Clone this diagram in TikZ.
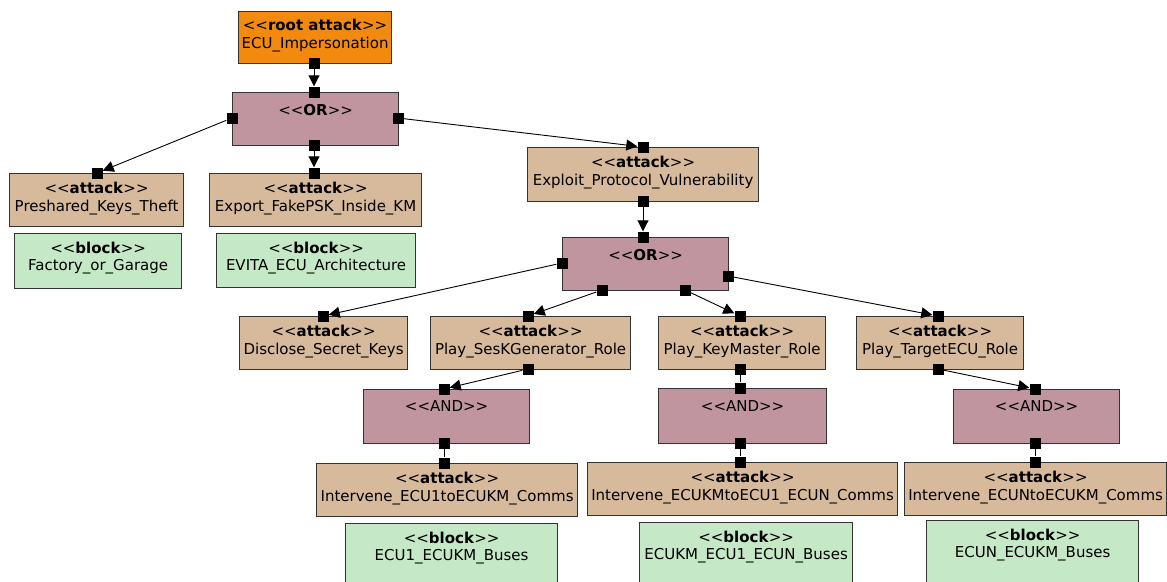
\documentclass[tikz,border=0pt]{standalone}
\usepackage{fontspec}
\newfontfamily\dv{DejaVu Sans}
\usetikzlibrary{arrows.meta}
\definecolor{rootc}{HTML}{F38A10}
\definecolor{attc}{HTML}{D7B99B}
\definecolor{gatec}{HTML}{C0959F}
\definecolor{blkc}{HTML}{C5E8C6}
\newcommand\stereo[1]{<<\textbf{#1}>>}
\begin{document}
\begin{tikzpicture}[x=1pt,y=-1pt,
  bx/.style={draw=black!80, line width=1.2pt, inner sep=0pt, anchor=north west},
  rootbox/.style={bx, fill=rootc},
  attbox/.style={bx, fill=attc},
  gatebox/.style={bx, fill=gatec},
  blkbox/.style={bx, fill=blkc},
  txt/.style={font=\dv\fontsize{15pt}{18pt}\selectfont, inner sep=0pt, anchor=center},
  port/.style={fill=black, draw=none, minimum size=11pt, inner sep=0pt},
  arr/.style={line width=0.9pt, -{Triangle[length=11pt,width=11pt]}},
  lnk/.style={line width=0.9pt}
]
\useasboundingbox (0,0) rectangle (1167,581);
\clip (0,0) rectangle (1167,581);

% boxes
\node[rootbox, minimum width=153pt, minimum height=52pt] (root) at (238,11) {};
\node[gatebox, minimum width=166pt, minimum height=53pt] (or1) at (232,92) {};
\node[attbox, minimum width=174pt, minimum height=53pt] (pkt) at (9,173) {};
\node[blkbox, minimum width=167pt, minimum height=55pt] (fog) at (14,233) {};
\node[attbox, minimum width=212pt, minimum height=53pt] (efp) at (209,173) {};
\node[blkbox, minimum width=199pt, minimum height=54pt] (eva) at (216,233) {};
\node[attbox, minimum width=231pt, minimum height=54pt] (epv) at (527,147) {};
\node[gatebox, minimum width=166pt, minimum height=53pt] (or2) at (562,237) {};
\node[attbox, minimum width=168pt, minimum height=53pt] (dsk) at (239,316) {};
\node[attbox, minimum width=200pt, minimum height=53pt] (psg) at (430,316) {};
\node[attbox, minimum width=167pt, minimum height=53pt] (pkm) at (658,316) {};
\node[attbox, minimum width=167pt, minimum height=53pt] (pte) at (856,316) {};
\node[gatebox, minimum width=166pt, minimum height=54pt] (and1) at (363,389) {};
\node[gatebox, minimum width=168pt, minimum height=55pt] (and2) at (658,388) {};
\node[gatebox, minimum width=166pt, minimum height=54pt] (and3) at (953,389) {};
\node[attbox, minimum width=261pt, minimum height=53pt] (iv1) at (316,463) {};
\node[attbox, minimum width=310pt, minimum height=53pt] (iv2) at (587,462) {};
\node[attbox, minimum width=262pt, minimum height=53pt] (iv3) at (904,462) {};
\node[blkbox, minimum width=212pt, minimum height=70pt] (bl1) at (345,523) {};
\node[blkbox, minimum width=213pt, minimum height=70pt] (bl2) at (639,522) {};
\node[blkbox, minimum width=212pt, minimum height=70pt] (bl3) at (926,520) {};

% texts
\node[txt] at ([yshift=-14pt]root.north) {\stereo{root attack}};
\node[txt] at ([yshift=-34pt]root.north) {ECU\_Impersonation};
\node[txt] at ([yshift=-18pt]or1.north) {\stereo{OR}};
\node[txt] at ([yshift=-15pt]pkt.north) {\stereo{attack}};
\node[txt] at ([yshift=-35pt]pkt.north) {Preshared\_Keys\_Theft};
\node[txt] at ([yshift=-15pt]fog.north) {\stereo{block}};
\node[txt] at ([yshift=-34pt]fog.north) {Factory\_or\_Garage};
\node[txt] at ([yshift=-15pt]efp.north) {\stereo{attack}};
\node[txt] at ([yshift=-35pt]efp.north) {Export\_FakePSK\_Inside\_KM};
\node[txt] at ([yshift=-15pt]eva.north) {\stereo{block}};
\node[txt] at ([yshift=-34pt]eva.north) {EVITA\_ECU\_Architecture};
\node[txt] at ([yshift=-15pt]epv.north) {\stereo{attack}};
\node[txt] at ([yshift=-35pt]epv.north) {Exploit\_Protocol\_Vulnerability};
\node[txt] at ([yshift=-18pt]or2.north) {\stereo{OR}};
\node[txt] at ([yshift=-15pt]dsk.north) {\stereo{attack}};
\node[txt] at ([yshift=-35pt]dsk.north) {Disclose\_Secret\_Keys};
\node[txt] at ([yshift=-15pt]psg.north) {\stereo{attack}};
\node[txt] at ([yshift=-35pt]psg.north) {Play\_SesKGenerator\_Role};
\node[txt] at ([yshift=-15pt]pkm.north) {\stereo{attack}};
\node[txt] at ([yshift=-35pt]pkm.north) {Play\_KeyMaster\_Role};
\node[txt] at ([yshift=-15pt]pte.north) {\stereo{attack}};
\node[txt] at ([yshift=-35pt]pte.north) {Play\_TargetECU\_Role};
\node[txt] at ([yshift=-17pt]and1.north) {<<AND>>};
\node[txt] at ([yshift=-18pt]and2.north) {<<AND>>};
\node[txt] at ([yshift=-17pt]and3.north) {<<AND>>};
\node[txt] at ([yshift=-15pt]iv1.north) {\stereo{attack}};
\node[txt] at ([yshift=-35pt]iv1.north) {Intervene\_ECU1toECUKM\_Comms};
\node[txt] at ([yshift=-15pt]iv2.north) {\stereo{attack}};
\node[txt] at ([yshift=-35pt]iv2.north) {Intervene\_ECUKMtoECU1\_ECUN\_Comms};
\node[txt] at ([yshift=-15pt]iv3.north) {\stereo{attack}};
\node[txt] at ([yshift=-35pt]iv3.north) {Intervene\_ECUNtoECUKM\_Comms};
\node[txt] at ([yshift=-15pt]bl1.north) {\stereo{block}};
\node[txt] at ([yshift=-34pt]bl1.north) {ECU1\_ECUKM\_Buses};
\node[txt] at ([yshift=-15pt]bl2.north) {\stereo{block}};
\node[txt] at ([yshift=-34pt]bl2.north) {ECUKM\_ECU1\_ECUN\_Buses};
\node[txt] at ([yshift=-15pt]bl3.north) {\stereo{block}};
\node[txt] at ([yshift=-34pt]bl3.north) {ECUN\_ECUKM\_Buses};

% ports
\node[port] (pR) at (314,63) {};
\node[port] (pO1t) at (314,92) {};
\node[port] (pO1l) at (232,118) {};
\node[port] (pO1b) at (314,145) {};
\node[port] (pO1r) at (398,118) {};
\node[port] (pPt) at (97,173) {};
\node[port] (pEt) at (314,173) {};
\node[port] (pXt) at (643,147) {};
\node[port] (pXb) at (643,201) {};
\node[port] (pO2t) at (643,237) {};
\node[port] (pO2l) at (562,263) {};
\node[port] (pO2a) at (602,290) {};
\node[port] (pO2b) at (685,290) {};
\node[port] (pO2r) at (728,276) {};
\node[port] (pDt) at (323,316) {};
\node[port] (pSt) at (528,316) {};
\node[port] (pSb) at (528,369) {};
\node[port] (pKt) at (740,316) {};
\node[port] (pKb) at (740,369) {};
\node[port] (pTt) at (938,316) {};
\node[port] (pTb) at (938,369) {};
\node[port] (pA1t) at (444,389) {};
\node[port] (pA1b) at (444,443) {};
\node[port] (pI1t) at (444,463) {};
\node[port] (pA2t) at (740,388) {};
\node[port] (pA2b) at (740,443) {};
\node[port] (pI2t) at (740,462) {};
\node[port] (pA3t) at (1035,389) {};
\node[port] (pA3b) at (1035,443) {};
\node[port] (pI3t) at (1035,462) {};

% connectors
\draw[arr] (pR) -- (pO1t);
\draw[arr] (pO1l) -- (pPt);
\draw[arr] (pO1b) -- (pEt);
\draw[arr] (pO1r) -- (pXt);
\draw[arr] (pXb) -- (pO2t);
\draw[arr] (pO2l) -- (pDt);
\draw[arr] (pO2a) -- (pSt);
\draw[arr] (pO2b) -- (pKt);
\draw[arr] (pO2r) -- (pTt);
\draw[arr] (pSb) -- (pA1t);
\draw[lnk] (pKb) -- (pA2t);
\draw[arr] (pTb) -- (pA3t);
\draw[lnk] (pA1b) -- (pI1t);
\draw[lnk] (pA2b) -- (pI2t);
\draw[lnk] (pA3b) -- (pI3t);
\end{tikzpicture}
\end{document}
